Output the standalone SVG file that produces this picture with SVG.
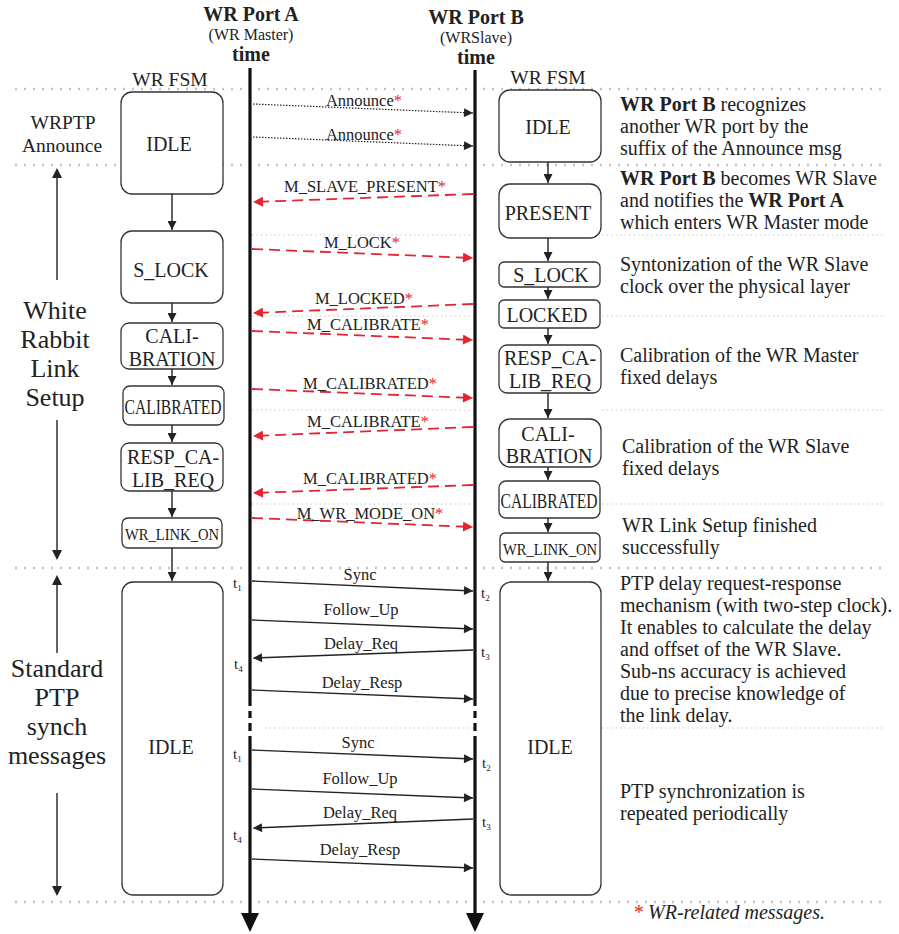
<svg xmlns="http://www.w3.org/2000/svg" width="899" height="934" viewBox="0 0 899 934">
<defs>
<style>
text{font-family:"Liberation Serif","Times New Roman",serif;fill:#222}
.hdr{font-weight:bold;font-size:20px;text-anchor:middle}
.sub{font-size:16px;text-anchor:middle}
.box{fill:#fff;stroke:#333;stroke-width:1.3}
.bl{font-size:20px;text-anchor:middle}
.msg{font-size:16.5px;text-anchor:middle}
.ptp{font-size:16.5px;text-anchor:middle}
.desc{font-size:20px}
.lab{font-size:19.5px;text-anchor:middle}
.big{font-size:26px;text-anchor:middle}
.star{fill:#e32530}
.tl{stroke:#111;stroke-width:3.2}
.red{stroke:#e32530;stroke-width:1.8;stroke-dasharray:11 6;fill:none}
.blk{stroke:#222;stroke-width:1.4;fill:none}
.dot{stroke:#222;stroke-width:1.2;stroke-dasharray:1.5 1.5;fill:none}
.sep{stroke:#c4c4c4;stroke-width:2.5;stroke-dasharray:2 7;stroke-linecap:butt}
.sepf{stroke:#c8c8c8;stroke-width:1.2;stroke-dasharray:1.5 3}
.fl{stroke:#222;stroke-width:1.4}
.ts{font-size:15px}
.tsub{font-size:9px}
</style>
<marker id="ar" viewBox="0 0 10 10" refX="10" refY="5" markerWidth="14" markerHeight="10" markerUnits="userSpaceOnUse" orient="auto"><path d="M0,0L10,5L0,10z" fill="#e32530"/></marker>
<marker id="ab" viewBox="0 0 10 10" refX="10" refY="5" markerWidth="13" markerHeight="9" markerUnits="userSpaceOnUse" orient="auto"><path d="M0,0L10,5L0,10z" fill="#222"/></marker>
<marker id="af" viewBox="0 0 10 10" refX="10" refY="5" markerWidth="10" markerHeight="9" markerUnits="userSpaceOnUse" orient="auto"><path d="M0,0L10,5L0,10z" fill="#222"/></marker>
</defs>
<rect width="899" height="934" fill="#fff"/>

<g id="separators">
<line class="sep" x1="15" y1="89" x2="885" y2="89"/>
<line class="sep" x1="15" y1="165" x2="885" y2="165"/>
<line class="sep" x1="15" y1="568" x2="885" y2="568"/>
<line class="sep" x1="15" y1="902" x2="885" y2="902"/>
<line class="sepf" x1="252" y1="235" x2="473" y2="235"/>
<line class="sepf" x1="602" y1="235" x2="885" y2="235"/>
<line class="sepf" x1="252" y1="316" x2="473" y2="316"/>
<line class="sepf" x1="602" y1="316" x2="885" y2="316"/>
<line class="sepf" x1="252" y1="410" x2="473" y2="410"/>
<line class="sepf" x1="602" y1="410" x2="885" y2="410"/>
<line class="sepf" x1="252" y1="504" x2="473" y2="504"/>
<line class="sepf" x1="602" y1="504" x2="885" y2="504"/>
<line class="sepf" x1="265" y1="728" x2="473" y2="728"/>
<line class="sepf" x1="602" y1="728" x2="885" y2="728"/>
</g>

<g id="portA">
<text class="hdr" x="251" y="21">WR Port A</text>
<text class="sub" x="251" y="40">(WR Master)</text>
<text class="hdr" x="251" y="61">time</text>
<path class="tl" d="M250,68V706M250,711V718M250,723V731M250,736V915"/>
<path d="M241,913L259,913L250,932z" fill="#111"/>
</g>
<g id="portB">
<text class="hdr" x="476" y="24">WR Port B</text>
<text class="sub" x="476" y="43">(WRSlave)</text>
<text class="hdr" x="476" y="64">time</text>
<path class="tl" d="M475,70V706M475,711V718M475,723V731M475,736V915"/>
<path d="M466,913L484,913L475,932z" fill="#111"/>
</g>

<g id="phaseLabels">
<text class="lab" x="63" y="129">WRPTP</text>
<text class="lab" x="62" y="152">Announce</text>
<text class="big" x="55" y="319">White</text>
<text class="big" x="55" y="348">Rabbit</text>
<text class="big" x="55" y="377">Link</text>
<text class="big" x="55" y="406">Setup</text>
<line class="fl" x1="57" y1="280" x2="57" y2="176"/>
<path d="M52,178L57,168L62,178z" fill="#222"/>
<line class="fl" x1="57" y1="420" x2="57" y2="552"/>
<path d="M52,550L57,560L62,550z" fill="#222"/>
<text class="big" x="57" y="677">Standard</text>
<text class="big" x="57" y="706">PTP</text>
<text class="big" x="57" y="735">synch</text>
<text class="big" x="57" y="764">messages</text>
<line class="fl" x1="57" y1="653" x2="57" y2="583"/>
<path d="M52,585L57,575L62,585z" fill="#222"/>
<line class="fl" x1="57" y1="793" x2="57" y2="888"/>
<path d="M52,886L57,896L62,886z" fill="#222"/>
</g>

<text class="lab" x="170" y="86">WR FSM</text>
<g id="A_IDLE"><rect class="box" x="121" y="92" width="102" height="102" rx="11"/><text class="bl" x="169" y="151">IDLE</text></g>
<g id="A_SLOCK"><rect class="box" x="121" y="231" width="102" height="72" rx="11"/><text class="bl" x="171" y="277">S_LOCK</text></g>
<g id="A_CALIBRATION"><rect class="box" x="121" y="323" width="102" height="46" rx="8"/><text class="bl" x="172" y="343">CALI-</text><text class="bl" x="172" y="366">BRATION</text></g>
<g id="A_CALIBRATED"><rect class="box" x="123" y="386" width="101" height="39" rx="7"/><text class="bl" x="173" y="414" textLength="97" lengthAdjust="spacingAndGlyphs">CALIBRATED</text></g>
<g id="A_RESP"><rect class="box" x="121" y="443" width="102" height="48" rx="8"/><text class="bl" x="173" y="464">RESP_CA-</text><text class="bl" x="173" y="487">LIB_REQ</text></g>
<g id="A_LINKON"><rect class="box" x="122" y="518" width="100" height="30" rx="6"/><text class="bl" x="172" y="540" style="font-size:17px" textLength="94" lengthAdjust="spacingAndGlyphs">WR_LINK_ON</text></g>
<g id="A_IDLE2"><rect class="box" x="122" y="582" width="101" height="313" rx="11"/><text class="bl" x="171" y="754">IDLE</text></g>

<text class="lab" x="548" y="84">WR FSM</text>
<g id="B_IDLE"><rect class="box" x="499" y="90" width="102" height="72" rx="11"/><text class="bl" x="548" y="134">IDLE</text></g>
<g id="B_PRESENT"><rect class="box" x="499" y="184" width="102" height="54" rx="11"/><text class="bl" x="548" y="220">PRESENT</text></g>
<g id="B_SLOCK"><rect class="box" x="499" y="262" width="101" height="25" rx="5"/><text class="bl" x="551" y="282">S_LOCK</text></g>
<g id="B_LOCKED"><rect class="box" x="499" y="300" width="101" height="28" rx="5"/><text class="bl" x="547" y="322">LOCKED</text></g>
<g id="B_RESP"><rect class="box" x="499" y="345" width="102" height="48" rx="8"/><text class="bl" x="550" y="365">RESP_CA-</text><text class="bl" x="550" y="388">LIB_REQ</text></g>
<g id="B_CALIBRATION"><rect class="box" x="499" y="419" width="102" height="48" rx="11"/><text class="bl" x="548" y="441">CALI-</text><text class="bl" x="549" y="463">BRATION</text></g>
<g id="B_CALIBRATED"><rect class="box" x="499" y="481" width="101" height="37" rx="7"/><text class="bl" x="549" y="508" textLength="97" lengthAdjust="spacingAndGlyphs">CALIBRATED</text></g>
<g id="B_LINKON"><rect class="box" x="500" y="533" width="100" height="29" rx="5"/><text class="bl" x="550" y="555" style="font-size:17px" textLength="94" lengthAdjust="spacingAndGlyphs">WR_LINK_ON</text></g>
<g id="B_IDLE2"><rect class="box" x="500" y="582" width="101" height="313" rx="11"/><text class="bl" x="550" y="754">IDLE</text></g>

<g id="connectors">
<line class="blk" x1="172" y1="194" x2="172" y2="230" marker-end="url(#ab)"/>
<line class="blk" x1="172" y1="303" x2="172" y2="322" marker-end="url(#ab)"/>
<line class="blk" x1="172" y1="369" x2="172" y2="385" marker-end="url(#ab)"/>
<line class="blk" x1="172" y1="425" x2="172" y2="442" marker-end="url(#ab)"/>
<line class="blk" x1="172" y1="491" x2="172" y2="517" marker-end="url(#ab)"/>
<line class="blk" x1="172" y1="548" x2="172" y2="581" marker-end="url(#ab)"/>
<line class="blk" x1="548" y1="162" x2="548" y2="183" marker-end="url(#ab)"/>
<line class="blk" x1="548" y1="238" x2="548" y2="261" marker-end="url(#ab)"/>
<line class="blk" x1="548" y1="287" x2="548" y2="299" marker-end="url(#ab)"/>
<line class="blk" x1="548" y1="328" x2="548" y2="344" marker-end="url(#ab)"/>
<line class="blk" x1="548" y1="393" x2="548" y2="418" marker-end="url(#ab)"/>
<line class="blk" x1="548" y1="467" x2="548" y2="480" marker-end="url(#ab)"/>
<line class="blk" x1="548" y1="518" x2="548" y2="532" marker-end="url(#ab)"/>
<line class="blk" x1="548" y1="562" x2="548" y2="581" marker-end="url(#ab)"/>
<line class="dot" x1="253" y1="104" x2="473" y2="113" marker-end="url(#af)"/>
<line class="dot" x1="253" y1="137" x2="473" y2="146" marker-end="url(#af)"/>
<line class="red" x1="473" y1="194" x2="253" y2="202" marker-end="url(#ar)"/>
<line class="red" x1="252" y1="249" x2="473" y2="258" marker-end="url(#ar)"/>
<line class="red" x1="473" y1="304" x2="253" y2="313" marker-end="url(#ar)"/>
<line class="red" x1="252" y1="331" x2="473" y2="340" marker-end="url(#ar)"/>
<line class="red" x1="252" y1="389" x2="473" y2="398" marker-end="url(#ar)"/>
<line class="red" x1="473" y1="427" x2="253" y2="436" marker-end="url(#ar)"/>
<line class="red" x1="473" y1="485" x2="253" y2="493" marker-end="url(#ar)"/>
<line class="red" x1="252" y1="518" x2="473" y2="527" marker-end="url(#ar)"/>
<line class="blk" x1="252" y1="581" x2="473" y2="591" marker-end="url(#ab)"/>
<line class="blk" x1="252" y1="620" x2="473" y2="629" marker-end="url(#ab)"/>
<line class="blk" x1="473" y1="650" x2="253" y2="658" marker-end="url(#ab)"/>
<line class="blk" x1="252" y1="690" x2="473" y2="699" marker-end="url(#ab)"/>
<line class="blk" x1="252" y1="750" x2="473" y2="759" marker-end="url(#ab)"/>
<line class="blk" x1="252" y1="789" x2="473" y2="798" marker-end="url(#ab)"/>
<line class="blk" x1="473" y1="819" x2="253" y2="828" marker-end="url(#ab)"/>
<line class="blk" x1="252" y1="859" x2="473" y2="868" marker-end="url(#ab)"/>
</g>

<g id="msgLabels">
<text class="msg" x="364" y="106">Announce<tspan class="star">*</tspan></text>
<text class="msg" x="364" y="140">Announce<tspan class="star">*</tspan></text>
<text class="msg" x="365" y="192">M_SLAVE_PRESENT<tspan class="star">*</tspan></text>
<text class="msg" x="362" y="248">M_LOCK<tspan class="star">*</tspan></text>
<text class="msg" x="364" y="304">M_LOCKED<tspan class="star">*</tspan></text>
<text class="msg" x="368" y="330">M_CALIBRATE<tspan class="star">*</tspan></text>
<text class="msg" x="370" y="389">M_CALIBRATED<tspan class="star">*</tspan></text>
<text class="msg" x="368" y="427">M_CALIBRATE<tspan class="star">*</tspan></text>
<text class="msg" x="370" y="484">M_CALIBRATED<tspan class="star">*</tspan></text>
<text class="msg" x="370" y="519">M_WR_MODE_ON<tspan class="star">*</tspan></text>
<text class="ptp" x="360" y="580">Sync</text>
<text class="ptp" x="361" y="615">Follow_Up</text>
<text class="ptp" x="361" y="649">Delay_Req</text>
<text class="ptp" x="362" y="688">Delay_Resp</text>
<text class="ptp" x="358" y="748">Sync</text>
<text class="ptp" x="360" y="784">Follow_Up</text>
<text class="ptp" x="360" y="818">Delay_Req</text>
<text class="ptp" x="360" y="855">Delay_Resp</text>
<text class="ts" x="233" y="588">t<tspan class="tsub" dy="3">1</tspan></text>
<text class="ts" x="481" y="598">t<tspan class="tsub" dy="3">2</tspan></text>
<text class="ts" x="481" y="657">t<tspan class="tsub" dy="3">3</tspan></text>
<text class="ts" x="234" y="669">t<tspan class="tsub" dy="3">4</tspan></text>
<text class="ts" x="233" y="759">t<tspan class="tsub" dy="3">1</tspan></text>
<text class="ts" x="482" y="768">t<tspan class="tsub" dy="3">2</tspan></text>
<text class="ts" x="482" y="827">t<tspan class="tsub" dy="3">3</tspan></text>
<text class="ts" x="233" y="840">t<tspan class="tsub" dy="3">4</tspan></text>
</g>

<g id="descriptions">
<text class="desc" x="620" y="111"><tspan font-weight="bold">WR Port B</tspan> recognizes</text>
<text class="desc" x="620" y="133">another WR port by the</text>
<text class="desc" x="620" y="155">suffix of the Announce msg</text>
<text class="desc" x="620" y="185"><tspan font-weight="bold">WR Port B</tspan> becomes WR Slave</text>
<text class="desc" x="620" y="207">and notifies the <tspan font-weight="bold">WR Port A</tspan></text>
<text class="desc" x="620" y="229">which enters WR Master mode</text>
<text class="desc" x="620" y="271">Syntonization of the WR Slave</text>
<text class="desc" x="620" y="293">clock over the physical layer</text>
<text class="desc" x="620" y="362">Calibration of the WR Master</text>
<text class="desc" x="620" y="384">fixed delays</text>
<text class="desc" x="622" y="453">Calibration of the WR Slave</text>
<text class="desc" x="622" y="475">fixed delays</text>
<text class="desc" x="622" y="532">WR Link Setup finished</text>
<text class="desc" x="622" y="554">successfully</text>
<text class="desc" x="620" y="590">PTP delay request-response</text>
<text class="desc" x="620" y="612">mechanism (with two-step clock).</text>
<text class="desc" x="620" y="634">It enables to calculate the delay</text>
<text class="desc" x="620" y="656">and offset of the WR Slave.</text>
<text class="desc" x="620" y="678">Sub-ns accuracy is achieved</text>
<text class="desc" x="620" y="700">due to precise knowledge of</text>
<text class="desc" x="620" y="722">the link delay.</text>
<text class="desc" x="620" y="798">PTP synchronization is</text>
<text class="desc" x="620" y="820">repeated periodically</text>
<text class="desc" x="633" y="919" font-style="italic"><tspan class="star">*</tspan> WR-related messages.</text>
</g>
</svg>
